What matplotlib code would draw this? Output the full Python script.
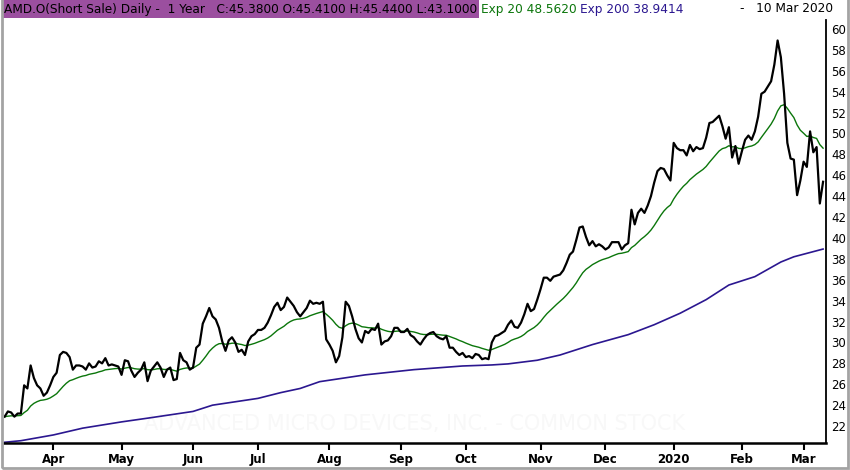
import numpy as np
import pandas as pd
import matplotlib
matplotlib.use("Agg")
import matplotlib.pyplot as plt
from matplotlib.patches import Rectangle

# NYSE holidays inside the one-year window
holidays = ["2019-04-19", "2019-05-27", "2019-07-04", "2019-09-02", "2019-11-28",
            "2019-12-25", "2020-01-01", "2020-01-20", "2020-02-17"]

# daily closes, 11 Mar 2019 .. 10 Mar 2020
close = [
    22.9, 23.4, 23.3, 22.9, 23.2, 23.2, 25.9, 25.6, 27.8, 26.6,
    25.9, 25.6, 24.9, 25.2, 25.9, 26.7, 27.1, 28.8, 29.1, 29.0,
    28.6, 27.4, 27.8, 27.8, 27.7, 27.4, 28.0, 27.6, 27.7, 28.2,
    28.0, 28.5, 27.8, 27.9, 27.8, 27.7, 26.9, 28.3, 28.2, 27.3,
    26.7, 27.1, 27.4, 28.1, 26.3, 27.3, 27.7, 28.1, 27.6, 26.7,
    27.4, 27.6, 26.4, 26.5, 29.0, 28.3, 28.1, 27.4, 27.6, 29.5,
    29.8, 31.8, 32.5, 33.3, 32.5, 32.2, 31.4, 30.1, 29.2, 30.2,
    30.5, 30.0, 29.1, 29.3, 28.8, 30.1, 30.6, 30.8, 31.2, 31.2,
    31.4, 31.9, 32.6, 33.4, 33.8, 33.1, 33.4, 34.3, 33.9, 33.5,
    32.9, 32.5, 32.9, 33.3, 34.0, 33.7, 33.8, 33.7, 33.9, 30.3,
    29.8, 29.2, 28.1, 28.7, 30.5, 33.9, 33.5, 32.5, 31.3, 30.4,
    30.0, 31.1, 30.9, 31.3, 31.2, 31.8, 29.8, 30.1, 30.2, 30.6,
    31.4, 31.4, 31.0, 31.0, 31.3, 30.7, 30.5, 30.1, 29.8, 30.3,
    30.7, 30.9, 31.0, 30.6, 30.4, 30.3, 30.6, 29.5, 29.5, 29.1,
    28.8, 29.0, 28.6, 28.7, 28.5, 28.9, 28.8, 28.4, 28.5, 28.4,
    30.0, 30.6, 30.7, 30.9, 31.1, 31.7, 32.1, 31.5, 31.4, 31.9,
    32.7, 33.7, 33.0, 33.2, 34.1, 35.1, 36.2, 36.2, 35.9, 36.3,
    36.4, 36.5, 36.9, 37.6, 38.4, 38.7, 39.8, 41.0, 41.1, 40.1,
    39.3, 39.7, 39.2, 39.4, 39.2, 38.9, 39.1, 39.6, 39.6, 39.6,
    38.9, 39.3, 39.5, 42.7, 41.3, 42.4, 42.8, 42.4, 43.1, 44.0,
    45.3, 46.4, 46.7, 46.6, 46.0, 45.5, 49.1, 48.6, 48.4, 48.4,
    47.9, 48.9, 48.3, 48.7, 48.5, 48.6, 49.6, 51.0, 51.1, 51.4,
    51.7, 50.7, 49.5, 50.6, 47.7, 48.8, 47.1, 48.3, 49.4, 49.8,
    49.4, 50.2, 51.6, 53.8, 54.0, 54.5, 55.0, 56.6, 58.9, 57.3,
    53.8, 49.1, 47.6, 47.5, 44.1, 45.5, 47.3, 46.8, 50.2, 48.2,
    48.7, 43.3, 45.38,
]

# Exp 200 line, read at roughly weekly dates
ema200_dates = ["2019-03-11", "2019-03-18", "2019-04-01", "2019-04-12", "2019-05-01",
                "2019-05-14", "2019-06-03", "2019-06-11", "2019-07-01", "2019-07-11",
                "2019-07-19", "2019-07-29", "2019-08-16", "2019-09-09", "2019-09-30",
                "2019-10-11", "2019-10-18", "2019-10-31", "2019-11-11", "2019-11-18",
                "2019-11-25", "2019-12-11", "2019-12-23", "2020-01-06", "2020-01-16",
                "2020-01-28", "2020-02-07", "2020-02-20", "2020-02-26", "2020-03-10"]
ema200_vals = [20.45, 20.6, 21.15, 21.8, 22.4,
               22.8, 23.4, 24.0, 24.65, 25.2,
               25.6, 26.25, 26.9, 27.4, 27.75,
               27.85, 27.95, 28.3, 28.8, 29.3,
               29.8, 30.75, 31.7, 32.8, 34.1,
               35.5, 36.3, 37.7, 38.2, 38.94]

y_ticks = list(range(22, 61, 2))

header = "AMD.O(Short Sale) Daily -  1 Year   C:45.3800 O:45.4100 H:45.4400 L:43.1000"
exp20_text = "Exp 20 48.5620"
exp200_text = "Exp 200 38.9414"
date_text = "-   10 Mar 2020"
watermark = "ADVANCED MICRO DEVICES, INC. - COMMON STOCK"

dates = pd.bdate_range("2019-03-11", "2020-03-10", freq="C", holidays=holidays)
s = pd.Series(close, index=dates)
ema20 = s.ewm(span=20, adjust=False).mean()
idx = np.arange(len(dates))
ema200_idx = dates.get_indexer(pd.to_datetime(ema200_dates))

# month start ticks
month_pos = [i for i in range(1, len(dates)) if dates[i].month != dates[i - 1].month]
month_lab = [str(dates[i].year) if dates[i].month == 1 else dates[i].strftime("%b")
             for i in month_pos]

W, H = 850, 470
fig = plt.figure(figsize=(W / 100, H / 100), dpi=100)
ax = fig.add_axes([4 / W, 1 - 443 / H, 822 / W, 423 / H])

ax.text(0.5, 0.045, watermark, transform=ax.transAxes, ha="center", va="center",
        fontsize=15, color="#f8f8f8", zorder=0)

ax.plot(idx, close, color="black", lw=1.6, zorder=3)
ax.plot(idx, ema20.values, color="#0b760b", lw=1.0, zorder=2)
ax.plot(ema200_idx, ema200_vals, color="#2b1790", lw=1.2, zorder=2)

ax.set_xlim(-0.2, 252.9)
ax.set_ylim(20.38, 60.86)

ax.yaxis.tick_right()
ax.set_yticks(y_ticks)
ax.set_yticklabels([str(v) for v in y_ticks])
ax.tick_params(axis="y", length=0, pad=4, labelsize=8.5)

ax.set_xticks(month_pos)
ax.set_xticklabels(month_lab, fontweight="bold")
ax.tick_params(axis="x", direction="out", length=5, width=1.5, pad=2, labelsize=8.5)

for side in ["left", "top"]:
    ax.spines[side].set_visible(False)
ax.spines["bottom"].set_linewidth(1.8)
ax.spines["right"].set_linewidth(1.3)

# header strip
fig.patches.append(Rectangle((2 / W, 1 - 18 / H), 477 / W, 18 / H, transform=fig.transFigure,
                             facecolor="#9b4f9f", edgecolor="none"))
fig.text(4 / W, 1 - 9 / H, header, fontsize=8.7, color="black", va="center")
fig.text(481 / W, 1 - 9 / H, exp20_text, fontsize=8.7, color="#0b760b", va="center")
fig.text(580 / W, 1 - 9 / H, exp200_text, fontsize=8.7, color="#2b1790", va="center")
fig.text(833 / W, 1 - 9 / H, date_text, fontsize=8.7, color="black", va="center", ha="right")

# outer frame
fig.patches.append(Rectangle((1.5 / W, 2.5 / H), 846 / W, 470 / H, transform=fig.transFigure,
                             facecolor="none", edgecolor="#a3a3a3", lw=2))

fig.savefig("out.png", dpi=100)
